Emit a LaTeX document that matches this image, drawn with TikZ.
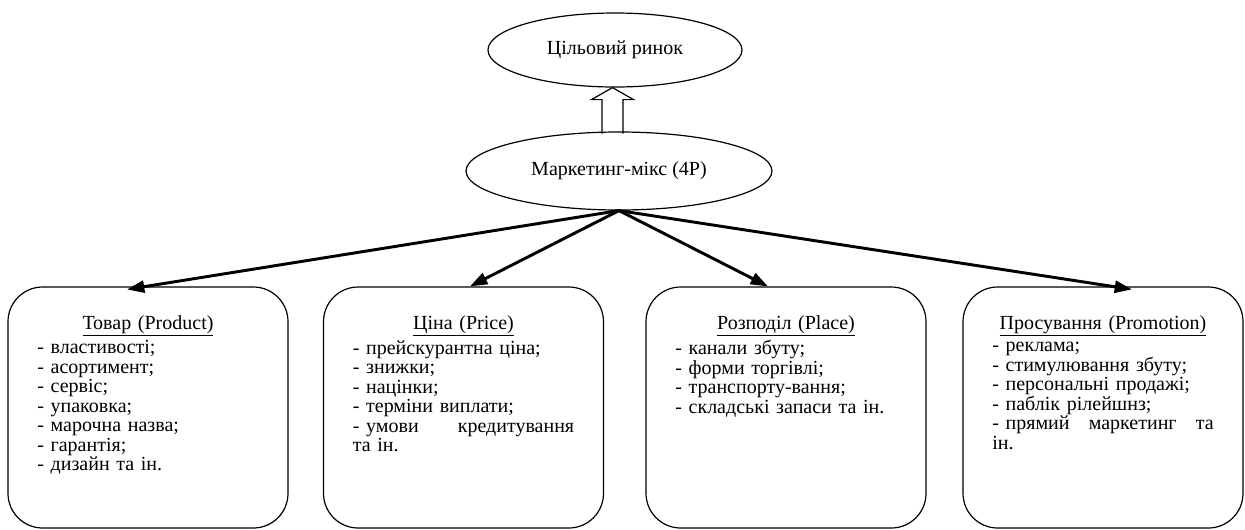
\documentclass[tikz,border=0pt]{standalone}
\usepackage{fontspec}
\setmainfont{Liberation Serif}
\usetikzlibrary{calc,shapes.geometric,arrows.meta}

\tikzset{
  oval/.style={ellipse, draw, line width=0.9pt, inner sep=0pt},
  pbox/.style={draw, line width=0.9pt, rounded corners=26pt, minimum width=210pt, minimum height=180.75pt, inner sep=0pt},
  plist/.style={text width=166pt, inner sep=0pt, anchor=north, align=left},
  mixarrow/.style={line width=2.2pt, -{Triangle[length=13pt,width=9pt]}},
  hollow/.style={line width=0.9pt}
}

\begin{document}
\begin{tikzpicture}[x=0.75pt, y=-0.75pt, font=\fontsize{15}{14.6}\selectfont]
  \useasboundingbox (0,0) rectangle (1245,529);

  % target market and the mix
  \node[oval, minimum width=190.5pt, minimum height=55.5pt] (goal) at (615,50) {Цільовий ринок};
  \node[oval, minimum width=229.5pt, minimum height=58.5pt] (mix) at (619,171) {Маркетинг-мікс (4P)};

  \draw[hollow] ($(goal.south)+(-2.5,0)$) coordinate (apex) -- ++(21,12) -- ++(-10.5,0) -- ++(0,34)
    (apex) -- ++(-21,12) -- ++(10.5,0) -- ++(0,34);

  % the four P
  \node[pbox] (product) at (148,407.5) {};
  \node[pbox] (price) at (463.5,407.5) {};
  \node[pbox] (place) at (786,407.5) {};
  \node[pbox] (promo) at (1103,407.5) {};

  \node[plist] (producttxt) at ($(product.north)+(0,29)$) {%
    {\centering\underline{Товар (Product)}\par}\vspace{2pt}
    - властивості;\\
    - асортимент;\\
    - сервіс;\\
    - упаковка;\\
    - марочна назва;\\
    - гарантія;\\
    - дизайн та ін.};

  \node[plist] (pricetxt) at ($(price.north)+(0,29)$) {%
    {\centering\underline{Ціна (Price)}\par}\vspace{2pt}
    - прейскурантна ціна;\\
    - знижки;\\
    - націнки;\\
    - терміни виплати;\\
    - умови\hfill кредитування\\
    та ін.};

  \node[plist] (placetxt) at ($(place.north)+(0,29)$) {%
    {\centering\underline{Розподіл (Place)}\par}\vspace{2pt}
    - канали збуту;\\
    - форми торгівлі;\\
    - транспорту-вання;\\
    - складські запаси та ін.};

  \node[plist] (promotxt) at ($(promo.north)+(0,29)$) {%
    {\centering\underline{Просування (Promotion)}\par}\vspace{2pt}
    - реклама;\\
    - стимулювання збуту;\\
    - персональні продажі;\\
    - паблік рілейшнз;\\
    - прямий\hfill маркетинг\hfill та\\
    ін.};

  \draw[mixarrow] (mix.south) -- ($(product.north)+(-21,3)$);
  \draw[mixarrow] (mix.south) -- ($(price.north)+(6.5,0)$);
  \draw[mixarrow] (mix.south) -- ($(place.north)+(-18,0)$);
  \draw[mixarrow] (mix.south) -- ($(promo.north)+(29,3)$);
\end{tikzpicture}
\end{document}
